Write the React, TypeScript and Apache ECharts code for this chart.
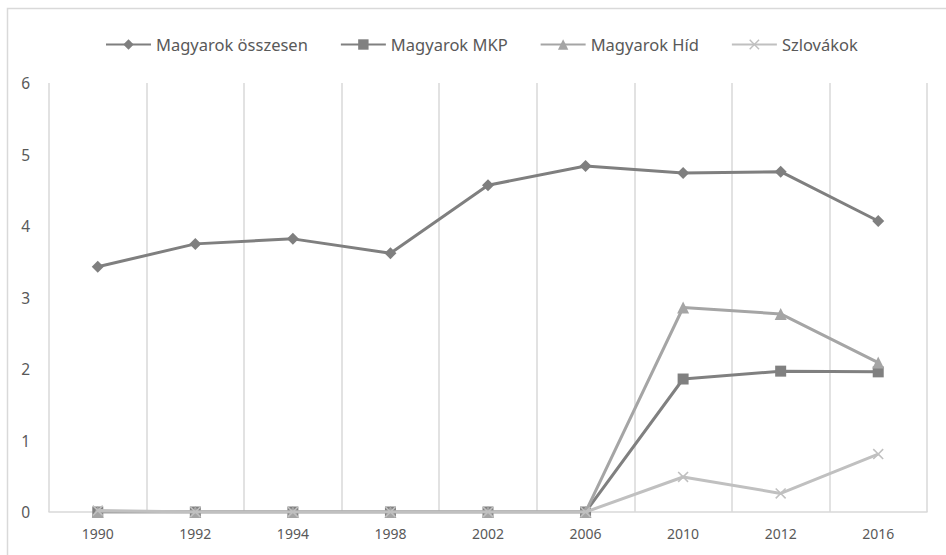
import React, { useEffect, useRef } from "react";
import * as echarts from "echarts";

const years = ["1990", "1992", "1994", "1998", "2002", "2006", "2010", "2012", "2016"];
const yTicks = [0, 1, 2, 3, 4, 5, 6];
const magyarokOsszesen = [3.43, 3.75, 3.82, 3.62, 4.57, 4.84, 4.74, 4.76, 4.07];
const magyarokMKP = [0, 0, 0, 0, 0, 0, 1.86, 1.97, 1.96];
const magyarokHid = [0, 0, 0, 0, 0, 0, 2.86, 2.77, 2.09];
const szlovakok = [0.02, 0, 0, 0, 0, 0, 0.49, 0.26, 0.81];

const seriesNames = ["Magyarok összesen", "Magyarok MKP", "Magyarok Híd", "Szlovákok"];
const seriesColors = ["#7f7f7f", "#808080", "#a5a5a5", "#c0c0c0"];

const xSymbol = "path://M0,1L1,0L5,4L9,0L10,1L6,5L10,9L9,10L5,6L1,10L0,9L4,5Z";

export default function App() {
  const ref = useRef<HTMLDivElement>(null);
  useEffect(() => {
    if (!ref.current) return;
    const chart = echarts.init(ref.current, undefined, { renderer: "svg" });
    const font = "'Noto Sans', 'Open Sans', sans-serif";
    const datasets = [magyarokOsszesen, magyarokMKP, magyarokHid, szlovakok];
    const symbols = ["diamond", "rect", "triangle", xSymbol];
    const symbolSizes = [12, 11, 12, 11];
    chart.setOption({
      animation: false,
      backgroundColor: "#ffffff",
      textStyle: { fontFamily: font },
      graphic: [
        {
          type: "rect",
          shape: { x: 7.5, y: 8.5, width: 1000, height: 1000 },
          style: { fill: "none", stroke: "#d9d9d9", lineWidth: 1.5 },
          silent: true,
        },
      ],
      legend: {
        left: 100,
        top: 31,
        itemWidth: 45,
        itemHeight: 13,
        itemGap: 32,
        textStyle: { color: "#595959", fontSize: 16.5, fontFamily: font },
        data: seriesNames,
      },
      grid: { left: 49, right: 19, top: 83, bottom: 43, containLabel: false },
      xAxis: {
        type: "category",
        data: years,
        boundaryGap: true,
        axisLine: { show: true, lineStyle: { color: "#d9d9d9", width: 1.5 } },
        axisTick: { show: false },
        splitLine: { show: true, lineStyle: { color: "#d9d9d9", width: 1.5 } },
        axisLabel: { color: "#595959", fontSize: 14, margin: 14, fontFamily: font },
      },
      yAxis: {
        type: "value",
        min: yTicks[0],
        max: yTicks[yTicks.length - 1],
        interval: 1,
        axisLine: { show: false },
        axisTick: { show: false },
        splitLine: { show: false },
        axisLabel: { color: "#595959", fontSize: 15.5, margin: 19, fontFamily: font },
      },
      series: seriesNames.map((name, i) => ({
        name,
        type: "line",
        data: datasets[i],
        symbol: symbols[i],
        symbolSize: symbolSizes[i],
        showAllSymbol: true,
        lineStyle: { color: seriesColors[i], width: 3 },
        itemStyle: { color: seriesColors[i] },
        emphasis: { disabled: true },
        z: 2 + i,
      })),
    });
    return () => chart.dispose();
  }, []);
  return (
    <div
      ref={ref}
      style={{ position: "fixed", left: 0, top: 0, width: 946, height: 555 }}
    />
  );
}
